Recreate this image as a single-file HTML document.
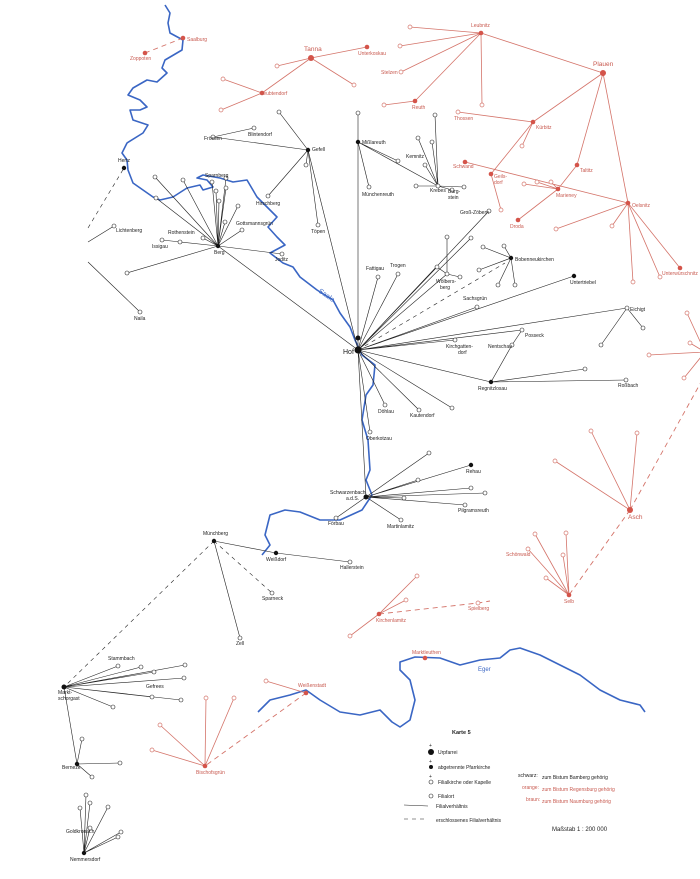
<!DOCTYPE html>
<html><head><meta charset="utf-8"><style>
html,body{margin:0;padding:0;background:#fff}
svg{display:block}
.k{stroke:#222;stroke-width:.6;fill:none}
.kd{stroke:#222;stroke-width:.6;fill:none;stroke-dasharray:4 4}
.r{stroke:#d4746a;stroke-width:.8;fill:none}
.rd{stroke:#d4746a;stroke-width:.9;fill:none;stroke-dasharray:5 4}
.w{stroke:#3a66c4;stroke-width:1.6;fill:none;stroke-linejoin:round}
text{font-family:"Liberation Sans",sans-serif;font-size:5px;fill:#222}
.rt{fill:#c85a50}
.oc{fill:#fff;stroke:#222;stroke-width:.6}
.ro{fill:#fff;stroke:#d4746a;stroke-width:.7}
</style></head><body>
<svg width="700" height="879" viewBox="0 0 700 879" xmlns="http://www.w3.org/2000/svg">
<!-- rivers -->
<path class="w" d="M165,5 L170,13 L168,23 L170,33 L183,40 L182,50 L165,60 L162,68 L167,73 L157,82 L147,80 L133,88 L128,95 L140,100 L147,107 L140,110 L130,110 L133,120 L148,125 L143,133 L127,143 L122,153 L127,160 L128,170 L133,183 L143,190 L153,197 L160,200 L173,197 L187,188 L200,185 L203,190 L213,187 L207,180 L197,178 L203,175 L220,178 L233,182 L247,180 L257,197 L267,207 L277,217 L268,227 L277,237 L285,245 L270,253 L283,263 L293,267 L300,277 L317,290 L333,300 L340,313 L350,327 L355,340 L362,355 L375,365 L373,385 L366,395 L362,420 L368,440 L370,470 L366,480 L372,495 L362,510 L340,520 L320,520 L300,512 L285,510 L270,515 L265,535 L270,545 L262,555"/>
<path class="w" d="M258,712 L270,700 L290,695 L306,690 L320,700 L340,712 L360,715 L380,710 L392,722 L400,727 L410,720 L415,700 L410,680 L400,670 L400,662 L415,657 L440,658 L460,665 L480,660 L500,658 L510,650 L520,648 L540,655 L560,665 L580,675 L600,690 L620,700 L640,705 L645,712"/>
<text x="318" y="292" style="fill:#3a66c4;font-size:7px" transform="rotate(35 318 292)">Saale</text>
<text x="478" y="671" style="fill:#3a66c4;font-size:6px">Eger</text>

<!-- black network -->
<path class="k" d="M358,350 L218,246 M358,350 L308,150 M358,350 L358,142 M358,350 L378,277 M358,350 L398,274 M358,350 L447,274 M358,350 L489,211 M358,350 L471,238 M358,350 L437,267 M358,350 L477,307 M358,350 L574,276 M358,350 L627,308 M358,350 L522,330 M358,350 L455,340 M358,350 L491,382 M358,350 L452,408 M358,350 L419,410 M358,350 L385,405 M358,350 L370,432 M358,350 L366,497"/>
<path class="kd" d="M358,350 L505,263"/>
<path class="k" d="M218,246 L155,177 M218,246 L183,180 M218,246 L156,198 M218,246 L212,182 M218,246 L216,191 M218,246 L226,188 M218,246 L219,201 M218,246 L226,178 M218,246 L238,206 M218,246 L225,222 M218,246 L242,230 M218,246 L203,238 M218,246 L180,242 M218,246 L162,240 M218,246 L282,254 M218,246 L127,273"/>
<path class="k" d="M88,262 L140,312 M88,242 L114,226"/>
<path class="kd" d="M88,228 L124,168"/>
<path class="k" d="M308,150 L279,112 M308,150 L306,165 M308,150 L268,196 M308,150 L318,225 M308,150 L213,137 L254,128"/>
<path class="k" d="M358,142 L358,113 M358,142 L369,187 M358,142 L438,186 M358,142 L398,161 M438,186 L435,115 M438,186 L418,138 M438,186 L432,142 M438,186 L425,165 M438,186 L416,186 M438,186 L464,187 M438,186 L452,190"/>
<path class="k" d="M511,258 L483,247 M511,258 L504,246 M511,258 L479,270 M511,258 L498,285 M511,258 L515,285 M447,274 L447,237 M447,274 L460,277 M447,274 L437,267"/>
<path class="k" d="M491,382 L512,345 L522,330 M491,382 L585,369 M491,382 L626,380 M627,308 L601,345 M627,308 L643,328"/>
<path class="k" d="M366,497 L429,453 M366,497 L471,465 M366,497 L418,480 M366,497 L471,488 M366,497 L485,493 M366,497 L404,498 M366,497 L465,505 M366,497 L401,520 M366,497 L336,518"/>
<path class="k" d="M214,541 L276,553 L350,562 M214,541 L240,638"/>
<path class="kd" d="M214,541 L272,593 M214,541 L64,687"/>
<path class="k" d="M64,687 L118,666 M64,687 L141,667 M64,687 L185,665 M64,687 L154,672 M64,687 L184,678 M64,687 L152,697 M64,687 L113,707 M64,687 L181,700 M64,687 L77,764 M77,764 L82,739 M77,764 L120,763 M77,764 L92,777"/>
<path class="k" d="M84,853 L86,795 M84,853 L80,808 M84,853 L90,803 M84,853 L108,807 M84,853 L90,828 M84,853 L121,832 M84,853 L118,837"/>

<!-- red network -->
<path class="r" d="M603,73 L481,33 M603,73 L533,122 M603,73 L577,165 M603,73 L628,203 M481,33 L410,27 M481,33 L400,46 M481,33 L401,72 M481,33 L415,101 L384,105 M481,33 L482,105 M533,122 L458,112 M533,122 L522,146 M533,122 L491,174 L501,210 M465,162 L628,203 M558,189 L524,184 M558,189 L537,182 M558,189 L551,182 M558,189 L577,165 M558,189 L518,220 M628,203 L556,229 M628,203 L612,226 M628,203 L633,282 M628,203 L660,277 M628,203 L680,268"/>
<path class="r" d="M311,58 L277,66 M311,58 L262,93 M311,58 L367,47 M311,58 L354,85 M262,93 L223,79 M262,93 L221,110"/>
<path class="rd" d="M183,38 L145,53"/>
<path class="r" d="M630,510 L555,461 M630,510 L591,431 M630,510 L637,433 M569,595 L535,534 M569,595 L566,533 M569,595 L563,555 M569,595 L528,549 M569,595 L546,578 M705,352 L687,313 M705,352 L690,343 M705,352 L649,355 M705,352 L684,378"/>
<path class="rd" d="M630,510 L569,595 M630,510 L705,375"/>
<path class="r" d="M379,614 L417,576 M379,614 L406,600 M379,614 L350,636 M306,693 L266,681 M205,766 L160,725 M205,766 L152,750 M205,766 L206,698 M205,766 L234,698"/>
<path class="rd" d="M379,614 L478,603 L490,601 M306,693 L205,766"/>

<!-- open circles black -->
<g class="oc">
<circle cx="155" cy="177" r="2"/><circle cx="183" cy="180" r="2"/><circle cx="156" cy="198" r="2"/><circle cx="212" cy="182" r="2"/><circle cx="216" cy="191" r="2"/><circle cx="226" cy="188" r="2"/><circle cx="219" cy="201" r="2"/><circle cx="226" cy="178" r="2"/><circle cx="238" cy="206" r="2"/><circle cx="225" cy="222" r="2"/><circle cx="242" cy="230" r="2"/><circle cx="203" cy="238" r="2"/><circle cx="180" cy="242" r="2"/><circle cx="162" cy="240" r="2"/><circle cx="282" cy="254" r="2"/><circle cx="127" cy="273" r="2"/><circle cx="140" cy="312" r="2"/><circle cx="114" cy="226" r="2"/>
<circle cx="279" cy="112" r="2"/><circle cx="306" cy="165" r="2"/><circle cx="268" cy="196" r="2"/><circle cx="318" cy="225" r="2"/><circle cx="213" cy="137" r="2"/><circle cx="254" cy="128" r="2"/>
<circle cx="358" cy="113" r="2"/><circle cx="369" cy="187" r="2"/><circle cx="398" cy="161" r="2"/><circle cx="435" cy="115" r="2"/><circle cx="418" cy="138" r="2"/><circle cx="432" cy="142" r="2"/><circle cx="425" cy="165" r="2"/><circle cx="416" cy="186" r="2"/><circle cx="464" cy="187" r="2"/><circle cx="452" cy="190" r="2"/><circle cx="438" cy="186" r="2"/>
<circle cx="378" cy="277" r="2"/><circle cx="398" cy="274" r="2"/><circle cx="447" cy="274" r="2"/><circle cx="489" cy="211" r="2"/><circle cx="471" cy="238" r="2"/><circle cx="437" cy="267" r="2"/><circle cx="447" cy="237" r="2"/><circle cx="460" cy="277" r="2"/><circle cx="477" cy="307" r="2"/><circle cx="627" cy="308" r="2"/><circle cx="522" cy="330" r="2"/><circle cx="512" cy="345" r="2"/><circle cx="455" cy="340" r="2"/><circle cx="452" cy="408" r="2"/><circle cx="419" cy="410" r="2"/><circle cx="385" cy="405" r="2"/><circle cx="370" cy="432" r="2"/>
<circle cx="483" cy="247" r="2"/><circle cx="504" cy="246" r="2"/><circle cx="479" cy="270" r="2"/><circle cx="498" cy="285" r="2"/><circle cx="515" cy="285" r="2"/><circle cx="585" cy="369" r="2"/><circle cx="626" cy="380" r="2"/><circle cx="601" cy="345" r="2"/><circle cx="643" cy="328" r="2"/>
<circle cx="429" cy="453" r="2"/><circle cx="418" cy="480" r="2"/><circle cx="471" cy="488" r="2"/><circle cx="485" cy="493" r="2"/><circle cx="404" cy="498" r="2"/><circle cx="465" cy="505" r="2"/><circle cx="401" cy="520" r="2"/><circle cx="336" cy="518" r="2"/>
<circle cx="350" cy="562" r="2"/><circle cx="240" cy="638" r="2"/><circle cx="272" cy="593" r="2"/>
<circle cx="118" cy="666" r="2"/><circle cx="141" cy="667" r="2"/><circle cx="185" cy="665" r="2"/><circle cx="154" cy="672" r="2"/><circle cx="184" cy="678" r="2"/><circle cx="152" cy="697" r="2"/><circle cx="113" cy="707" r="2"/><circle cx="181" cy="700" r="2"/><circle cx="82" cy="739" r="2"/><circle cx="120" cy="763" r="2"/><circle cx="92" cy="777" r="2"/>
<circle cx="86" cy="795" r="2"/><circle cx="80" cy="808" r="2"/><circle cx="90" cy="803" r="2"/><circle cx="108" cy="807" r="2"/><circle cx="90" cy="828" r="2"/><circle cx="121" cy="832" r="2"/><circle cx="118" cy="837" r="2"/>
</g>
<!-- filled black -->
<g fill="#111">
<circle cx="358" cy="350" r="3.5"/><circle cx="358" cy="338" r="2.5"/><circle cx="218" cy="246" r="2.2"/><circle cx="308" cy="150" r="2.2"/><circle cx="358" cy="142" r="2.2"/><circle cx="124" cy="168" r="2.2"/><circle cx="511" cy="258" r="2.2"/><circle cx="574" cy="276" r="2.2"/><circle cx="491" cy="382" r="2.2"/><circle cx="366" cy="497" r="2.5"/><circle cx="471" cy="465" r="2.2"/><circle cx="214" cy="541" r="2.2"/><circle cx="276" cy="553" r="2.2"/><circle cx="64" cy="687" r="2.5"/><circle cx="77" cy="764" r="2.2"/><circle cx="84" cy="853" r="2.2"/>
</g>
<!-- red circles -->
<g class="ro">
<circle cx="410" cy="27" r="2"/><circle cx="400" cy="46" r="2"/><circle cx="401" cy="72" r="2"/><circle cx="384" cy="105" r="2"/><circle cx="482" cy="105" r="2"/><circle cx="458" cy="112" r="2"/><circle cx="522" cy="146" r="2"/><circle cx="501" cy="210" r="2"/><circle cx="524" cy="184" r="2"/><circle cx="537" cy="182" r="2"/><circle cx="551" cy="182" r="2"/><circle cx="556" cy="229" r="2"/><circle cx="612" cy="226" r="2"/><circle cx="633" cy="282" r="2"/><circle cx="660" cy="277" r="2"/>
<circle cx="277" cy="66" r="2"/><circle cx="354" cy="85" r="2"/><circle cx="223" cy="79" r="2"/><circle cx="221" cy="110" r="2"/>
<circle cx="555" cy="461" r="2"/><circle cx="591" cy="431" r="2"/><circle cx="637" cy="433" r="2"/><circle cx="535" cy="534" r="2"/><circle cx="566" cy="533" r="2"/><circle cx="563" cy="555" r="2"/><circle cx="528" cy="549" r="2"/><circle cx="546" cy="578" r="2"/><circle cx="687" cy="313" r="2"/><circle cx="690" cy="343" r="2"/><circle cx="649" cy="355" r="2"/><circle cx="684" cy="378" r="2"/>
<circle cx="417" cy="576" r="2"/><circle cx="406" cy="600" r="2"/><circle cx="350" cy="636" r="2"/><circle cx="478" cy="603" r="2"/><circle cx="266" cy="681" r="2"/><circle cx="160" cy="725" r="2"/><circle cx="152" cy="750" r="2"/><circle cx="206" cy="698" r="2"/><circle cx="234" cy="698" r="2"/>
</g>
<g fill="#d4544a">
<circle cx="603" cy="73" r="3"/><circle cx="481" cy="33" r="2.3"/><circle cx="533" cy="122" r="2.3"/><circle cx="577" cy="165" r="2.3"/><circle cx="628" cy="203" r="2.3"/><circle cx="415" cy="101" r="2.3"/><circle cx="491" cy="174" r="2.3"/><circle cx="465" cy="162" r="2.3"/><circle cx="558" cy="189" r="2.3"/><circle cx="518" cy="220" r="2.3"/><circle cx="680" cy="268" r="2.3"/><circle cx="311" cy="58" r="3"/><circle cx="262" cy="93" r="2.3"/><circle cx="367" cy="47" r="2.3"/><circle cx="183" cy="38" r="2.3"/><circle cx="145" cy="53" r="2.3"/><circle cx="630" cy="510" r="3"/><circle cx="569" cy="595" r="2.3"/><circle cx="379" cy="614" r="2.3"/><circle cx="306" cy="693" r="2.3"/><circle cx="205" cy="766" r="2.3"/><circle cx="425" cy="658" r="2.3"/>
</g>

<!-- black labels -->
<text x="343" y="354" style="font-size:7px">Hof</text>
<text x="214" y="254">Berg</text><text x="312" y="151">Gefell</text><text x="362" y="144">Mißlareuth</text>
<text x="118" y="162">Hertz</text><text x="116" y="232">Lichtenberg</text><text x="134" y="320">Naila</text>
<text x="204" y="140">Frössen</text><text x="248" y="136">Blintendorf</text><text x="205" y="177">Sparnberg</text>
<text x="256" y="205">Hirschberg</text><text x="236" y="225">Gottsmannsgrün</text><text x="168" y="234">Rothenstein</text>
<text x="152" y="248">Issigau</text><text x="275" y="261">Joditz</text><text x="311" y="233">Töpen</text>
<text x="362" y="196">Münchenreuth</text><text x="406" y="158">Kemnitz</text><text x="430" y="192">Krebes</text>
<text x="448" y="193">Burg-</text><text x="448" y="199">stein</text><text x="460" y="214">Groß-Zöbern</text>
<text x="515" y="261">Bobenneukirchen</text><text x="570" y="284">Untertriebel</text><text x="630" y="311">Eichigt</text>
<text x="366" y="270">Fattigau</text><text x="390" y="267">Trogen</text><text x="436" y="283">Wölbers-</text><text x="440" y="289">berg</text>
<text x="463" y="300">Sachsgrün</text><text x="525" y="337">Posseck</text><text x="488" y="348">Nentschau</text>
<text x="446" y="348">Kirchgatten-</text><text x="458" y="354">dorf</text><text x="478" y="390">Regnitzlosau</text>
<text x="618" y="387">Roßbach</text><text x="378" y="413">Döhlau</text><text x="410" y="417">Kautendorf</text>
<text x="366" y="440">Oberkotzau</text><text x="330" y="494">Schwarzenbach</text><text x="346" y="500">a.d.S.</text>
<text x="466" y="473">Rehau</text><text x="458" y="512">Pilgramsreuth</text><text x="387" y="528">Martinlamitz</text>
<text x="328" y="525">Förbau</text><text x="203" y="535">Münchberg</text><text x="266" y="561">Weißdorf</text>
<text x="340" y="569">Hallerstein</text><text x="262" y="600">Sparneck</text><text x="236" y="645">Zell</text>
<text x="108" y="660">Stammbach</text><text x="146" y="688">Gefrees</text><text x="58" y="694">Markt-</text><text x="58" y="700">schorgast</text>
<text x="62" y="769">Bernezk</text><text x="66" y="833">Goldkronach</text><text x="70" y="861">Nemmersdorf</text>

<!-- red labels -->
<g class="rt">
<text x="304" y="51" class="rt" style="font-size:6.5px">Tanna</text><text x="593" y="66" class="rt" style="font-size:6.5px">Plauen</text>
<text x="471" y="27" class="rt">Leubnitz</text><text x="358" y="55" class="rt">Unterkoskau</text><text x="381" y="74" class="rt">Stelzen</text>
<text x="412" y="109" class="rt">Reuth</text><text x="454" y="120" class="rt">Thossen</text><text x="536" y="129" class="rt">Kürbitz</text>
<text x="453" y="168" class="rt">Schwand</text><text x="494" y="178" class="rt">Geils-</text><text x="494" y="184" class="rt">dorf</text>
<text x="580" y="172" class="rt">Taltitz</text><text x="556" y="197" class="rt">Marieney</text><text x="510" y="228" class="rt">Droda</text>
<text x="632" y="207" class="rt">Oelsnitz</text><text x="662" y="275" class="rt">Unterwürschnitz</text>
<text x="260" y="95" class="rt">Seubtendorf</text><text x="187" y="41" class="rt">Saalburg</text><text x="130" y="60" class="rt">Zoppoten</text>
<text x="628" y="519" class="rt" style="font-size:6.5px">Asch</text><text x="564" y="603" class="rt">Selb</text><text x="506" y="556" class="rt">Schönwald</text>
<text x="376" y="622" class="rt">Kirchenlamitz</text><text x="468" y="610" class="rt">Spielberg</text>
<text x="298" y="687" class="rt">Weißenstadt</text><text x="196" y="774" class="rt">Bischofsgrün</text><text x="412" y="654" class="rt">Marktleuthen</text>
</g>

<!-- legend -->
<text x="452" y="734" style="font-size:5.5px;font-weight:bold">Karte 5</text>
<circle cx="431" cy="752" r="3" fill="#111"/><text x="429" y="747">+</text><text x="438" y="754">Urpfarrei</text>
<circle cx="431" cy="767" r="2" fill="#111"/><text x="429" y="763">+</text><text x="438" y="769">abgetrennte Pfarrkirche</text>
<circle cx="431" cy="782" r="2" class="oc"/><text x="429" y="778">+</text><text x="438" y="784">Filialkirche oder Kapelle</text>
<circle cx="431" cy="796" r="2" class="oc"/><text x="438" y="798">Filialort</text>
<line x1="404" y1="805" x2="428" y2="806" class="k"/><text x="436" y="808">Filialverhältnis</text>
<line x1="404" y1="819" x2="428" y2="819" class="kd"/><text x="436" y="822">erschlossenes Filialverhältnis</text>
<text x="518" y="777">schwarz:</text><text x="542" y="779">zum Bistum Bamberg gehörig</text>
<text x="522" y="789" class="rt">orange:</text><text x="542" y="791" class="rt">zum Bistum Regensburg gehörig</text>
<text x="526" y="801" class="rt">braun:</text><text x="542" y="803" class="rt">zum Bistum Naumburg gehörig</text>
<text x="552" y="831" style="font-size:6px">Maßstab  1 : 200 000</text>
</svg>
</body></html>
